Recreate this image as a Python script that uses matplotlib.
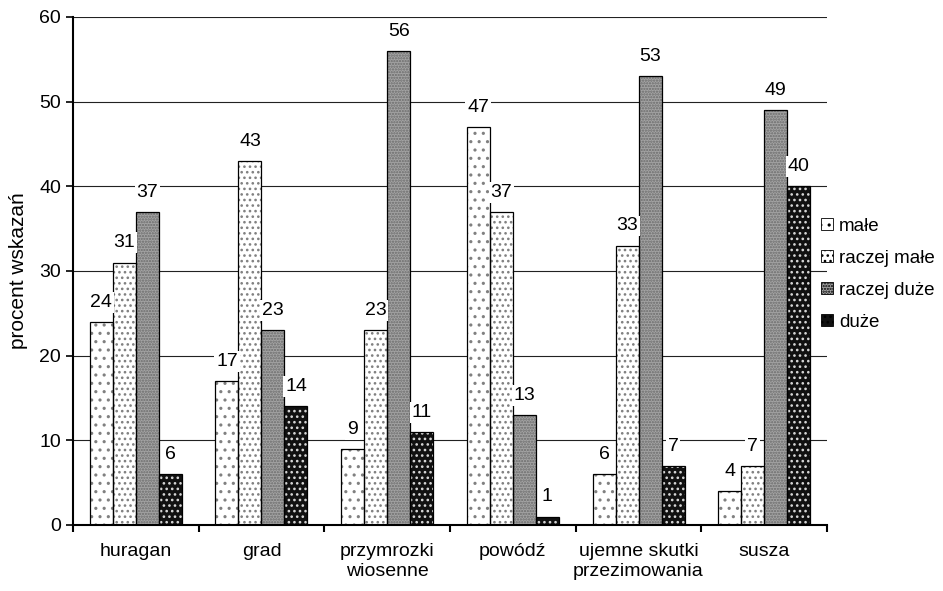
import numpy as np
import matplotlib.pyplot as plt

plt.rcParams.update({"font.family": ["Liberation Sans", "DejaVu Sans"], "font.size": 14,
                     "hatch.linewidth": 1.1})

categories = ["huragan", "grad", "przymrozki\nwiosenne", "powódź",
              "ujemne skutki\nprzezimowania", "susza"]
series_names = ["małe", "raczej małe", "raczej duże", "duże"]
male = [24, 17, 9, 47, 6, 4]
raczej_male = [31, 43, 23, 37, 33, 7]
raczej_duze = [37, 23, 56, 13, 53, 49]
duze = [6, 14, 11, 1, 7, 40]
series = [male, raczej_male, raczej_duze, duze]

faces = ["white", "white", "#a4a4a4", "#111111"]
hatch_cols = ["#808080", "#808080", "#6a6a6a", "#d8d8d8"]
hatches = ["..", "...", "......", "..."]

fig = plt.figure(figsize=(9.43, 5.91), dpi=100)
ax = fig.add_axes([0.0774, 0.1117, 0.7996, 0.8596])

x = np.arange(len(categories))
w = 0.183
handles = []
for i, (vals, fc, hc, ht) in enumerate(zip(series, faces, hatch_cols, hatches)):
    pos = x + (i - 1.5) * w
    ax.bar(pos, vals, w, color=fc, edgecolor=hc, hatch=ht, lw=0, zorder=2)
    ax.bar(pos, vals, w, color="none", edgecolor="black", lw=0.9, zorder=3)
    handles.append(plt.Rectangle((0, 0), 1, 1, facecolor=fc, edgecolor=hc, hatch=ht, lw=0))
    for xp, v in zip(pos, vals):
        ax.annotate(str(v), (xp, v), xytext=(0, 8), textcoords="offset points",
                    ha="center", va="bottom", fontsize=14, zorder=4,
                    bbox=dict(boxstyle="square,pad=0.1", fc="white", ec="none"))

leg = fig.legend(handles, series_names, loc="center left", bbox_to_anchor=(0.857, 0.536),
                 frameon=False, handlelength=0.65, handleheight=0.65, handletextpad=0.3,
                 labelspacing=0.8, fontsize=13.5, borderpad=0.2)
for p in leg.get_patches():
    p.set_edgecolor("black"); p.set_linewidth(0.6)

ax.set_ylim(0, 60)
ax.set_xlim(-0.5, len(categories) - 0.5)
ax.set_yticks(range(0, 61, 10))
ax.yaxis.grid(True, color="#222222", lw=0.8, zorder=0)
ax.set_axisbelow(True)
ax.set_xticks(np.arange(-0.5, len(categories), 1.0))
ax.set_xticklabels([])
ax.set_xticks(x, minor=True)
ax.set_xticklabels(categories, minor=True)
ax.tick_params(axis="x", which="minor", length=0, pad=13)
ax.tick_params(axis="x", which="major", length=5, direction="out", width=1.5)
ax.tick_params(axis="y", length=5, direction="out", width=1.2)
for s in ["top", "right"]:
    ax.spines[s].set_visible(False)
ax.spines["left"].set_lw(1.5)
ax.spines["bottom"].set_lw(1.5)
ax.set_ylabel("procent wskazań", fontsize=15, labelpad=8)

fig.savefig("out.png", dpi=100, facecolor="white")
